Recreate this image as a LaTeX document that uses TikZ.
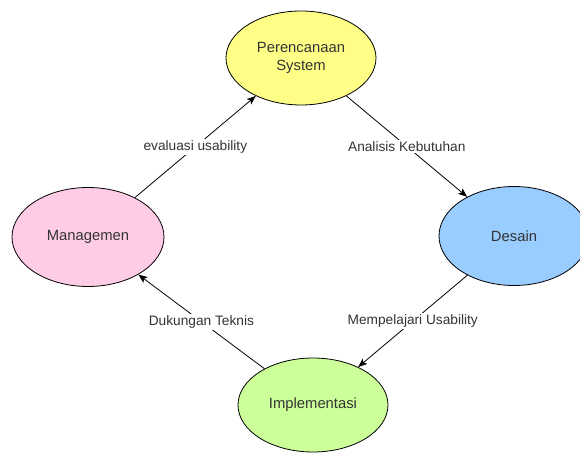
\documentclass[tikz,border=0pt]{standalone}
\usepackage{fontspec}
\setmainfont{Liberation Sans}
\usetikzlibrary{shapes.geometric, arrows.meta}

\definecolor{planfill}{HTML}{FFFF88}
\definecolor{managefill}{HTML}{FFCCE6}
\definecolor{designfill}{HTML}{99CCFF}
\definecolor{implfill}{HTML}{CCFF99}
\definecolor{textgray}{HTML}{333333}

\begin{document}
\begin{tikzpicture}[x=1pt, y=-1pt,
  phase/.style = {ellipse, draw=black, line width=0.8pt, inner sep=0pt,
    minimum width=150pt, text=textgray, align=center,
    font=\fontsize{14.8}{17.5}\selectfont},
  flow/.style = {line width=0.8pt, -{Stealth[length=9pt, width=7pt, inset=2pt]}},
  flowlabel/.style = {fill=white, inner sep=1.5pt, text=textgray,
    font=\fontsize{13.7}{16}\selectfont}]
\useasboundingbox (0,0) rectangle (580,454);
% fasa
\node[phase, fill=planfill, minimum height=94pt] (plan) at (301,58) {Perencanaan\\System};
\node[phase, fill=managefill, minimum width=152pt, minimum height=99pt] (manage) at (88,237) {Managemen};
\node[phase, fill=designfill, minimum height=99pt] (design) at (514,236) {Desain};
\node[phase, fill=implfill, minimum height=94pt] (impl) at (313,405) {Implementasi};
% alur
\draw[flow] (manage) -- node[flowlabel] {evaluasi usability} (plan);
\draw[flow] (plan) -- node[flowlabel] {Analisis Kebutuhan} (design);
\draw[flow] (design) -- node[flowlabel] {Mempelajari Usability} (impl);
\draw[flow] (impl) -- node[flowlabel] {Dukungan Teknis} (manage);
\end{tikzpicture}
\end{document}
